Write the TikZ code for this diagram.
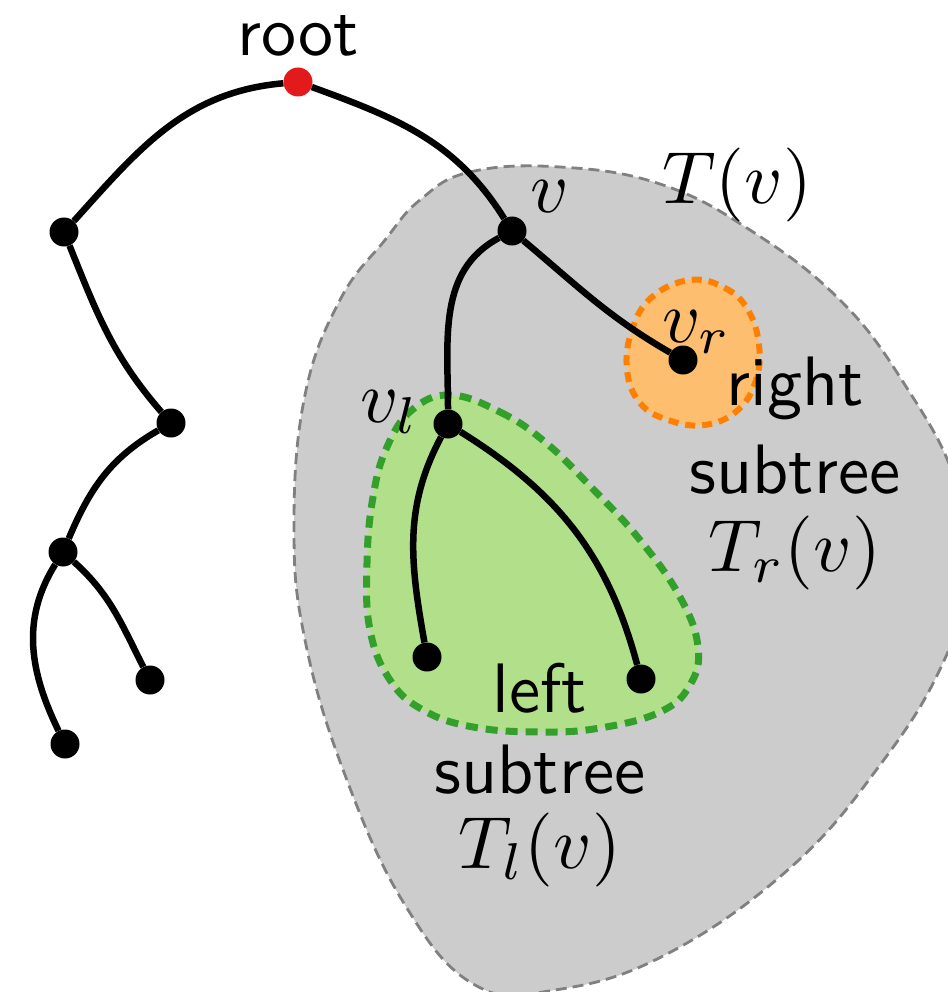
\documentclass[tikz,border=0pt]{standalone}
\definecolor{blobgray}{RGB}{204,204,204}
\definecolor{blobgrayline}{RGB}{128,128,128}
\definecolor{greenfill}{RGB}{178,223,138}
\definecolor{greenline}{RGB}{51,160,44}
\definecolor{orangefill}{RGB}{253,191,111}
\definecolor{orangeline}{RGB}{255,127,0}
\definecolor{rootred}{RGB}{227,26,28}
\tikzset{
  dot/.style={circle, fill=black, inner sep=0pt, minimum size=29pt},
  rootdot/.style={circle, fill=rootred, inner sep=0pt, minimum size=29pt},
  edge/.style={line width=6.5pt, black},
  lbl/.style={font=\fontsize{10}{12}\selectfont\sffamily, inner sep=0pt, scale=7.0, transform shape},
  mlbl/.style={font=\fontsize{10}{12}\selectfont, inner sep=0pt, scale=7.4, transform shape},
  grayblob/.style={fill=blobgray, draw=blobgrayline, line width=2.8pt, dash pattern=on 11pt off 6pt},
  greenblob/.style={fill=greenfill, draw=greenline, line width=7pt, dash pattern=on 12pt off 8pt},
  orangeblob/.style={fill=orangefill, draw=orangeline, line width=6pt, dash pattern=on 10pt off 7pt}
}
\begin{document}
\begin{tikzpicture}[x=1pt, y=-1pt]
\useasboundingbox (0,0) rectangle (947,992);
% blobs
\draw[grayblob] plot[smooth cycle, tension=0.7] coordinates {
 (420,200) (470,172) (560,167) (660,184) (750,230) (840,300) (905,385)
 (955,480) (968,575) (942,665) (880,765) (790,868) (665,955) (555,990)
 (475,985) (405,905) (345,775) (305,640) (294,525) (305,395) (340,300) (385,240)};
\draw[greenblob] plot[smooth cycle, tension=0.7] coordinates {
 (450,395) (500,412) (545,442) (592,488) (640,540) (680,597) (698,647)
 (690,685) (660,712) (600,728) (540,732) (473,727) (423,710) (390,680)
 (370,630) (367,563) (373,497) (387,447) (412,410)};
\draw[orangeblob] plot[smooth cycle, tension=0.7] coordinates {
 (690,280) (725,288) (748,310) (759,345) (756,380) (738,410) (705,425)
 (668,420) (640,403) (627,370) (632,330) (652,297)};
% nodes
\node[rootdot] (root) at (298,82) {};
\node[dot] (a) at (64,232) {};
\node[dot] (b) at (171,423) {};
\node[dot] (c) at (63,552) {};
\node[dot] (d) at (150,680) {};
\node[dot] (e) at (65,744) {};
\node[dot] (v) at (512,231) {};
\node[dot] (vl) at (448,424) {};
\node[dot] (vr) at (683,360) {};
\node[dot] (ll) at (427,657) {};
\node[dot] (lr) at (641,679) {};
% edges
\draw[edge] (root) to[out=185, in=48] (a);
\draw[edge] (a) to[out=-68, in=131] (b);
\draw[edge] (b) to[out=210, in=67] (c);
\draw[edge] (c) to[out=-42, in=117] (d);
\draw[edge] (c) to[out=-122, in=116] (e);
\draw[edge] (root) to[out=-20, in=122] (v);
\draw[edge] (v) to[out=208, in=90] (vl);
\draw[edge] (v) to[out=-40, in=150] (vr);
\draw[edge] (vl) to[out=-118, in=100] (ll);
\draw[edge] (vl) to[out=-32, in=105] (lr);
% labels
\node[lbl] (troot) at (298,36) {root};
\node[mlbl] (tv) at (550,197) {$v$};
\node[mlbl] (tT) at (737,185) {$T(v)$};
\node[mlbl] (tvr) at (697,332) {$v_r$};
\node[mlbl] (tvl) at (390,412) {$v_l$};
\node[lbl] (tright) at (795,388) {right};
\node[lbl] (trsub) at (795,470) {subtree};
\node[mlbl] (tTr) at (795,553) {$T_r(v)$};
\node[lbl] (tleft) at (540,688) {left};
\node[lbl] (tlsub) at (540,770) {subtree};
\node[mlbl] (tTl) at (540,850) {$T_l(v)$};
\end{tikzpicture}
\end{document}
